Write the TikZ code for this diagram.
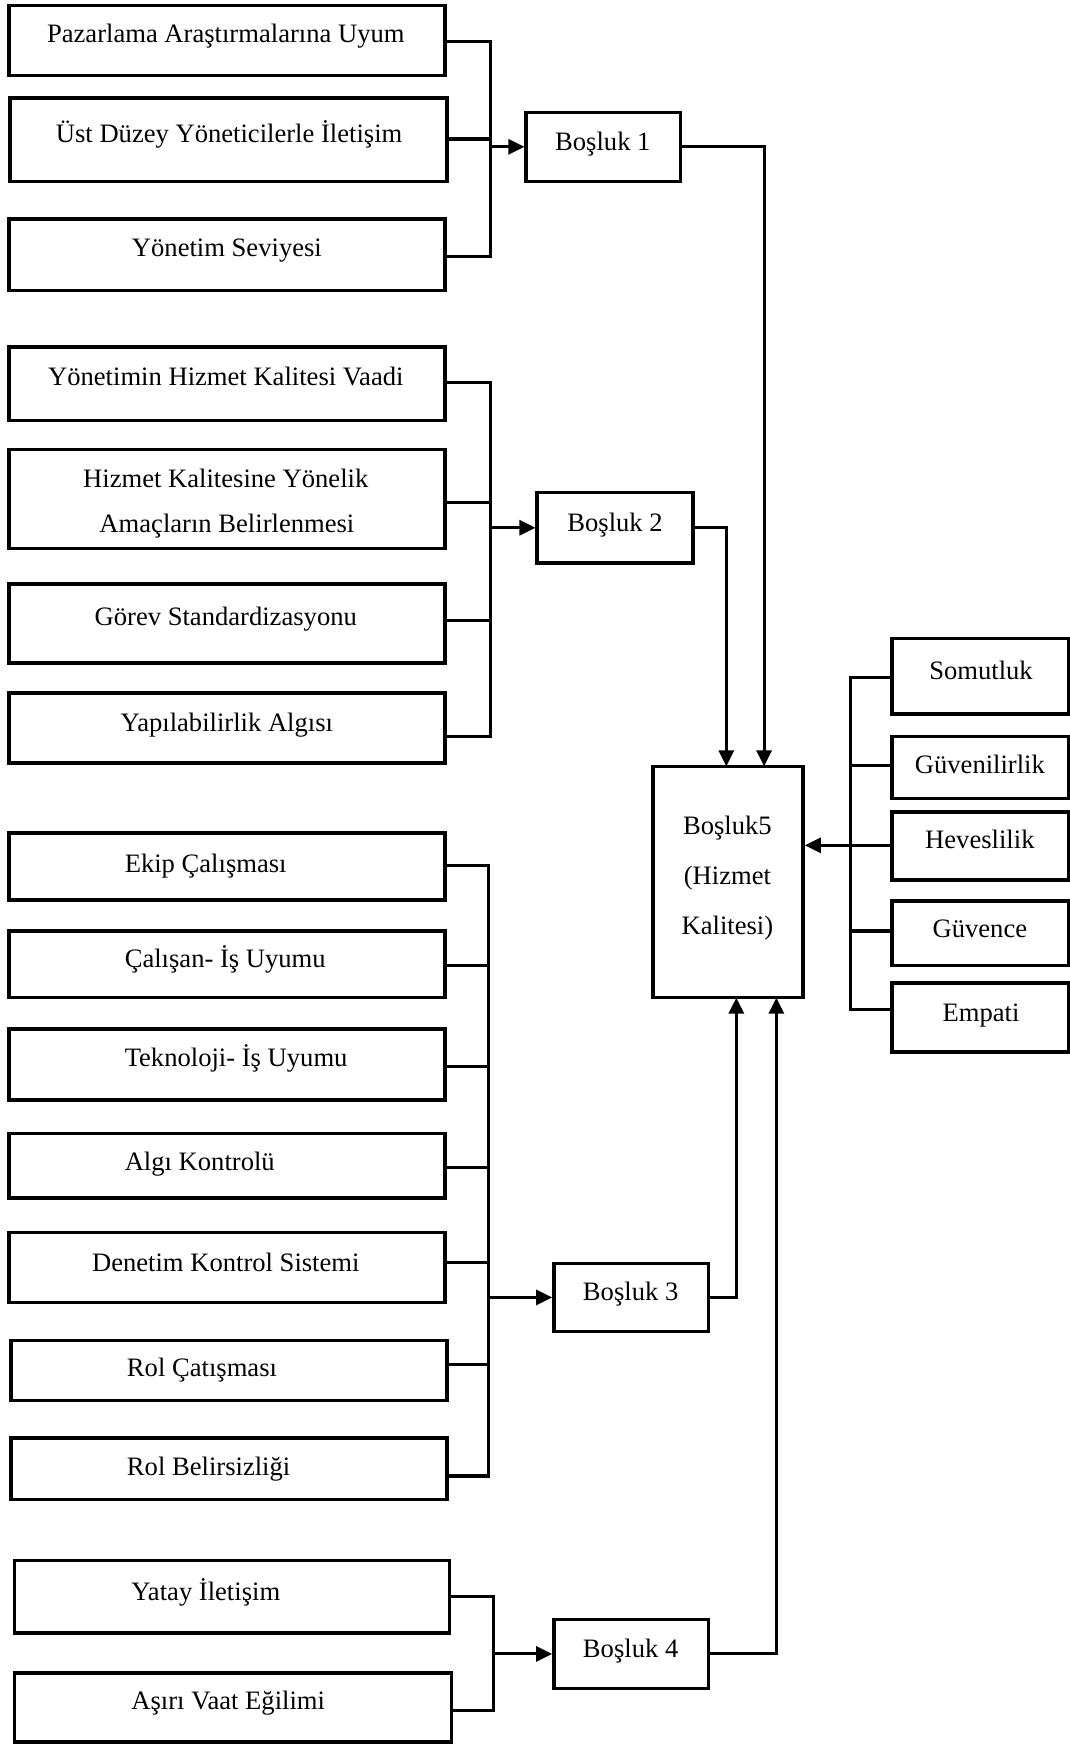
\documentclass[tikz,border=0pt]{standalone}
\usepackage{fontspec}
\setmainfont{Liberation Serif}
\usetikzlibrary{arrows.meta,fit}

\begin{document}
\begin{tikzpicture}[x=1.1123pt,y=-1.1123pt,
  box/.style={draw,line width=3.5pt,inner sep=0pt},
  conn/.style={line width=3.1pt},
  arr/.style={-{Triangle[length=16pt,width=15pt]}},
  lbl/.style={anchor=base,inner sep=0pt,font=\fontsize{26.6}{30}\selectfont},
  lblw/.style={lbl,anchor=base west}]
\useasboundingbox[fill=white] (0,0) rectangle (962,1568);

% ---- group 1 ----
\node[box,fit={(8,5) (400,68)}] (A1) {};
\node[box,fit={(9,88) (402,163)}] (A2) {};
\node[box,fit={(8,197) (400,261)}] (A3) {};
\node[lbl] (tA1) at (203,38) {Pazarlama Araştırmalarına Uyum};
\node[lbl] (tA2) at (206,128) {Üst Düzey Yöneticilerle İletişim};
\node[lbl] (tA3) at (204,231) {Yönetim Seviyesi};
\node[box,fit={(473,101) (612,163)}] (B1) {};
\node[lbl] (tB1) at (542,135) {Boşluk 1};

% ---- group 2 ----
\node[box,fit={(8,312) (400,378)}] (C1) {};
\node[box,fit={(8,404) (400,493)}] (C2) {};
\node[box,fit={(8,525) (400,596)}] (C3) {};
\node[box,fit={(8,623) (400,686)}] (C4) {};
\node[lbl] (tC1) at (203,347) {Yönetimin Hizmet Kalitesi Vaadi};
\node[lbl] (tC2a) at (203,438) {Hizmet Kalitesine Yönelik};
\node[lbl] (tC2b) at (204,479) {Amaçların Belirlenmesi};
\node[lbl] (tC3) at (203,562) {Görev Standardizasyonu};
\node[lbl] (tC4) at (204,658) {Yapılabilirlik Algısı};
\node[box,fit={(483,443) (623,506)}] (B2) {};
\node[lbl] (tB2) at (553,478) {Boşluk 2};

% ---- central box ----
\node[box,fit={(587,689) (722,897)}] (B5) {};
\node[lbl] (tB5a) at (654,750) {Boşluk5};
\node[lbl] (tB5b) at (654,795) {(Hizmet};
\node[lbl] (tB5c) at (654,840) {Kalitesi)};

% ---- dimensions on the right ----
\node[box,fit={(802,574) (961,642)}] (S1) {};
\node[box,fit={(802,662) (961,718)}] (S2) {};
\node[box,fit={(802,730) (961,791)}] (S3) {};
\node[box,fit={(802,810) (961,868)}] (S4) {};
\node[box,fit={(802,884) (961,946)}] (S5) {};
\node[lbl] (tS1) at (882,611) {Somutluk};
\node[lbl] (tS2) at (881,695) {Güvenilirlik};
\node[lbl] (tS3) at (881,763) {Heveslilik};
\node[lbl] (tS4) at (881,843) {Güvence};
\node[lbl] (tS5) at (882,918) {Empati};

% ---- group 3 ----
\node[box,fit={(8,749) (400,809)}] (D1) {};
\node[box,fit={(8,837) (400,897)}] (D2) {};
\node[box,fit={(8,925) (400,989)}] (D3) {};
\node[box,fit={(8,1019) (400,1077)}] (D4) {};
\node[box,fit={(8,1108) (400,1171)}] (D5) {};
\node[box,fit={(10,1205) (402,1259)}] (D6) {};
\node[box,fit={(10,1293) (402,1348)}] (D7) {};
\node[lblw] (tD1) at (112,784) {Ekip Çalışması};
\node[lblw] (tD2) at (112,870) {Çalışan- İş Uyumu};
\node[lblw] (tD3) at (112,959) {Teknoloji- İş Uyumu};
\node[lblw] (tD4) at (112,1052) {Algı Kontrolü};
\node[lbl] (tD5) at (203,1143) {Denetim Kontrol Sistemi};
\node[lblw] (tD6) at (114,1238) {Rol Çatışması};
\node[lblw] (tD7) at (114,1327) {Rol Belirsizliği};
\node[box,fit={(498,1136) (637,1197)}] (B3) {};
\node[lbl] (tB3) at (567,1169) {Boşluk 3};

% ---- group 4 ----
\node[box,fit={(13,1403) (404,1468)}] (E1) {};
\node[box,fit={(13,1504) (406,1566)}] (E2) {};
\node[lblw] (tE1) at (118,1439) {Yatay İletişim};
\node[lblw] (tE2) at (118,1537) {Aşırı Vaat Eğilimi};
\node[box,fit={(498,1456) (637,1518)}] (B4) {};
\node[lbl] (tB4) at (567,1490) {Boşluk 4};

% ---- bus points ----
\coordinate (a1) at (441,37);
\coordinate (a2) at (441,125);
\coordinate (a3) at (441,231);
\coordinate (c1) at (441,344);
\coordinate (c2) at (441,452);
\coordinate (c3) at (441,558);
\coordinate (c4) at (441,662);
\coordinate (d1) at (439,778);
\coordinate (d2) at (439,868);
\coordinate (d3) at (439,959);
\coordinate (d4) at (439,1050);
\coordinate (d5) at (439,1135);
\coordinate (d6) at (439,1227);
\coordinate (d7) at (439,1327);
\coordinate (e1) at (444,1435);
\coordinate (e2) at (444,1538);
\coordinate (s1) at (765,609);
\coordinate (s2) at (765,688);
\coordinate (s3) at (765,760);
\coordinate (s4) at (765,837);
\coordinate (s5) at (765,908);
\coordinate (t1) at (687,689);
\coordinate (t2) at (653,689);
\coordinate (u3) at (662,897);
\coordinate (u4) at (698,897);

% ---- connectors, group 1 ----
\draw[conn] (a1 -| A1.east) -- (a1) -- (a3) -- (a3 -| A3.east);
\draw[conn] (a2 -| A2.east) -- (a2);
\draw[conn,arr] (B1.west -| a1) -- (B1.west);
\draw[conn,arr] (B1.east) -| (t1);

% ---- connectors, group 2 ----
\draw[conn] (c1 -| C1.east) -- (c1) -- (c4) -- (c4 -| C4.east);
\draw[conn] (c2 -| C2.east) -- (c2);
\draw[conn] (c3 -| C3.east) -- (c3);
\draw[conn,arr] (B2.west -| c1) -- (B2.west);
\draw[conn,arr] (B2.east) -| (t2);

% ---- connectors, group 3 ----
\draw[conn] (d1 -| D1.east) -- (d1) -- (d7) -- (d7 -| D7.east);
\draw[conn] (d2 -| D2.east) -- (d2);
\draw[conn] (d3 -| D3.east) -- (d3);
\draw[conn] (d4 -| D4.east) -- (d4);
\draw[conn] (d5 -| D5.east) -- (d5);
\draw[conn] (d6 -| D6.east) -- (d6);
\draw[conn,arr] (B3.west -| d1) -- (B3.west);
\draw[conn,arr] (B3.east) -| (u3);

% ---- connectors, group 4 ----
\draw[conn] (e1 -| E1.east) -- (e1) -- (e2) -- (e2 -| E2.east);
\draw[conn,arr] (B4.west -| e1) -- (B4.west);
\draw[conn,arr] (B4.east) -| (u4);

% ---- connectors, right side ----
\draw[conn] (s1 -| S1.west) -- (s1) -- (s5) -- (s5 -| S5.west);
\draw[conn] (s2 -| S2.west) -- (s2);
\draw[conn] (s4 -| S4.west) -- (s4);
\draw[conn,arr] (s3 -| S3.west) -- (s3 -| B5.east);
\end{tikzpicture}
\end{document}
